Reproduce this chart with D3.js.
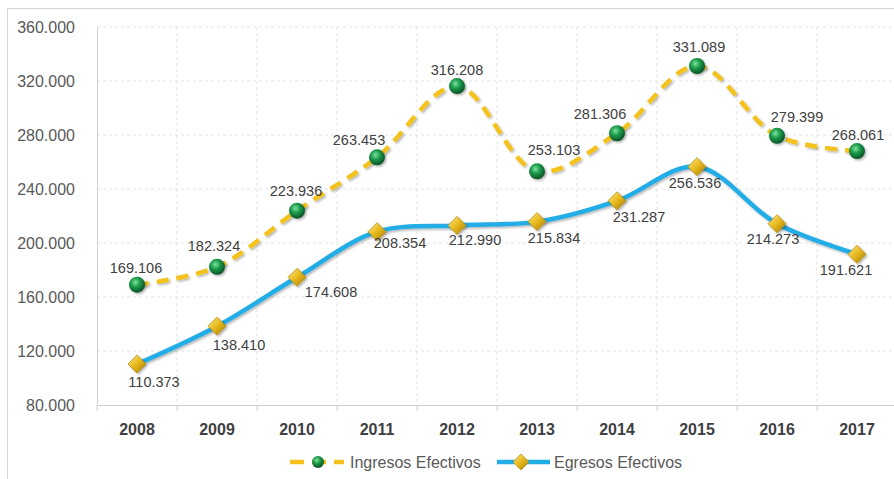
<!DOCTYPE html>
<html lang="es">
<head>
<meta charset="UTF-8">
<script src="https://d3js.org/d3.v7.min.js"></script>
<style>
  body { margin: 0; background: #fff; }
  svg { display: block; font-family: "Liberation Sans", Arial, sans-serif; }
  .grid line { stroke: #e3e3e3; stroke-dasharray: 3,3; }
  .ylab { fill: #595959; font-size: 16px; }
  .xlab { fill: #404040; font-size: 16px; font-weight: bold; }
  .val { fill: #404040; font-size: 14.5px; }
  .leg { fill: #595959; font-size: 16px; }
</style>
</head>
<body>
<div id="chart"></div>
<script>
// data
const years = ["2008", "2009", "2010", "2011", "2012", "2013", "2014", "2015", "2016", "2017"];
const ingresos = [169106, 182324, 223936, 263453, 316208, 253103, 281306, 331089, 279399, 268061];
const egresos = [110373, 138410, 174608, 208354, 212990, 215834, 231287, 256536, 214273, 191621];
const yTicks = [80000, 120000, 160000, 200000, 240000, 280000, 320000, 360000];

// label nudges (pixels), as placed in the original
const ingresosLabelDx = [-1, -3, -1, -18, 0, 17, -17, 2, 20, 1];
const ingresosLabelDy = [-12, -16, -15, -12, -11, -16, -14, -14, -14, -11];
const egresosLabelDx = [17, 22, 34, 23, 18, 17, 22, -2, -4, -11];
const egresosLabelDy = [23, 24, 20, 16, 20, 21, 21, 21, 20, 21];

const width = 894, height = 479;
const fmt = d3.formatLocale({ decimal: ",", thousands: ".", grouping: [3], currency: ["", ""] }).format(",");

const svg = d3.select("#chart").append("svg")
  .attr("width", width)
  .attr("height", height);

// gradients for markers
const defs = svg.append("defs");
const gGreen = defs.append("radialGradient").attr("id", "green").attr("cx", "40%").attr("cy", "35%").attr("r", "65%");
gGreen.append("stop").attr("offset", "0%").attr("stop-color", "#7be39c");
gGreen.append("stop").attr("offset", "45%").attr("stop-color", "#1c9a4a");
gGreen.append("stop").attr("offset", "100%").attr("stop-color", "#0a5226");
const gGold = defs.append("linearGradient").attr("id", "gold").attr("x1", "0").attr("y1", "0").attr("x2", "1").attr("y2", "1");
gGold.append("stop").attr("offset", "0%").attr("stop-color", "#ffe98a");
gGold.append("stop").attr("offset", "50%").attr("stop-color", "#e6b81c");
gGold.append("stop").attr("offset", "100%").attr("stop-color", "#a17a05");
const shadow = defs.append("filter").attr("id", "shadow").attr("x", "-50%").attr("y", "-50%").attr("width", "200%").attr("height", "200%");
shadow.append("feDropShadow").attr("dx", 1.5).attr("dy", 1.5).attr("stdDeviation", 1.2).attr("flood-color", "#000").attr("flood-opacity", 0.3);

// outer frame
svg.append("rect")
  .attr("x", 7.5).attr("y", 8.5)
  .attr("width", 900).attr("height", 500)
  .attr("fill", "none")
  .attr("stroke", "#d4d4d4");

// scales
const x = d3.scaleBand().domain(years).range([97, 897]);
const y = d3.scaleLinear().domain([80000, 360000]).range([405, 27]);
const cx = d => x(d) + x.bandwidth() / 2;

// horizontal grid
svg.append("g")
  .attr("class", "grid")
  .selectAll("line")
  .data(yTicks.slice(1))
  .join("line")
  .attr("x1", 97).attr("x2", 897)
  .attr("y1", d => y(d)).attr("y2", d => y(d));

// vertical grid at category boundaries
svg.append("g")
  .attr("class", "grid")
  .selectAll("line")
  .data(years.slice(1))
  .join("line")
  .attr("x1", d => x(d)).attr("x2", d => x(d))
  .attr("y1", y(360000)).attr("y2", y(80000));

// y axis
svg.append("g")
  .attr("transform", "translate(97,0)")
  .call(d3.axisLeft(y).tickValues(yTicks).tickSize(0).tickPadding(22).tickFormat(fmt))
  .call(g => g.select(".domain").attr("stroke", "#d0d0d0"))
  .call(g => g.selectAll("text").attr("class", "ylab").attr("font-family", null).attr("font-size", null).attr("fill", null));

// x axis
svg.append("g")
  .attr("transform", `translate(0,${y(80000)})`)
  .call(d3.axisBottom(x).tickSize(0).tickPadding(19))
  .call(g => g.select(".domain").attr("stroke", "#d0d0d0"))
  .call(g => g.selectAll("text").attr("class", "xlab").attr("font-family", null).attr("font-size", null).attr("fill", null));

// boundary tick marks below axis
svg.append("g")
  .selectAll("line")
  .data(years)
  .join("line")
  .attr("x1", d => x(d)).attr("x2", d => x(d))
  .attr("y1", y(80000)).attr("y2", y(80000) + 6)
  .attr("stroke", "#d0d0d0");

// lines
const line = d3.line()
  .x((d, i) => cx(years[i]))
  .y(d => y(d))
  .curve(d3.curveCatmullRom.alpha(0.5));

svg.append("path")
  .datum(egresos)
  .attr("d", line)
  .attr("fill", "none")
  .attr("stroke", "#22ade6")
  .attr("stroke-width", 4.5)
  .attr("filter", "url(#shadow)");

svg.append("path")
  .datum(ingresos)
  .attr("d", line)
  .attr("fill", "none")
  .attr("stroke", "#f4c21b")
  .attr("stroke-width", 4.5)
  .attr("stroke-dasharray", "12,8")
  .attr("filter", "url(#shadow)");

// markers
const diamond = "M0,-9L9,0L0,9L-9,0Z";

svg.append("g")
  .selectAll("path")
  .data(egresos)
  .join("path")
  .attr("transform", (d, i) => `translate(${cx(years[i])},${y(d)})`)
  .attr("d", diamond)
  .attr("fill", "url(#gold)")
  .attr("stroke", "#b8900c")
  .attr("stroke-width", 0.8)
  .attr("filter", "url(#shadow)");

svg.append("g")
  .selectAll("circle")
  .data(ingresos)
  .join("circle")
  .attr("cx", (d, i) => cx(years[i]))
  .attr("cy", d => y(d))
  .attr("r", 8)
  .attr("fill", "url(#green)")
  .attr("filter", "url(#shadow)");

// value labels
svg.append("g")
  .selectAll("text")
  .data(ingresos)
  .join("text")
  .attr("class", "val")
  .attr("text-anchor", "middle")
  .attr("x", (d, i) => cx(years[i]) + ingresosLabelDx[i])
  .attr("y", (d, i) => y(d) + ingresosLabelDy[i])
  .text(fmt);

svg.append("g")
  .selectAll("text")
  .data(egresos)
  .join("text")
  .attr("class", "val")
  .attr("text-anchor", "middle")
  .attr("x", (d, i) => cx(years[i]) + egresosLabelDx[i])
  .attr("y", (d, i) => y(d) + egresosLabelDy[i])
  .text(fmt);

// legend
const legend = svg.append("g").attr("transform", "translate(0,462)");

legend.append("line")
  .attr("x1", 290).attr("x2", 344)
  .attr("stroke", "#f4c21b").attr("stroke-width", 4.5)
  .attr("stroke-dasharray", "14,8");
legend.append("circle")
  .attr("cx", 318).attr("r", 6)
  .attr("fill", "url(#green)");
legend.append("text")
  .attr("class", "leg")
  .attr("x", 350).attr("y", 5.5)
  .text("Ingresos Efectivos");

legend.append("line")
  .attr("x1", 497).attr("x2", 550)
  .attr("stroke", "#22ade6").attr("stroke-width", 4.5);
legend.append("path")
  .attr("transform", "translate(521,0)")
  .attr("d", "M0,-8L8,0L0,8L-8,0Z")
  .attr("fill", "url(#gold)")
  .attr("stroke", "#b8900c").attr("stroke-width", 0.8);
legend.append("text")
  .attr("class", "leg")
  .attr("x", 554).attr("y", 5.5)
  .text("Egresos Efectivos");
</script>
</body>
</html>
